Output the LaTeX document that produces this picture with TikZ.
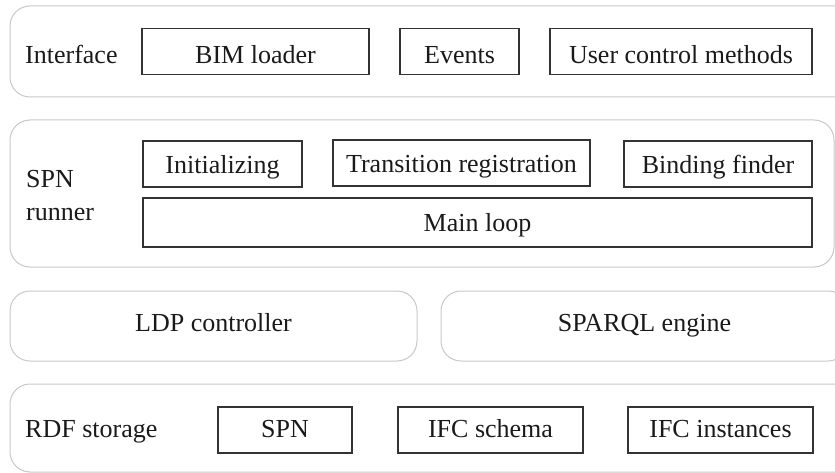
\documentclass[tikz,border=0pt]{standalone}
\usepackage{fontspec}
\setmainfont{Liberation Serif}
\definecolor{panelline}{RGB}{200,200,200}
\definecolor{boxline}{RGB}{51,51,51}
\definecolor{ink}{RGB}{26,26,26}
\begin{document}
\begin{tikzpicture}[x=1pt,y=-1pt,
  every node/.style={font=\fontsize{26}{32}\selectfont, text=ink, inner sep=0pt},
  panel/.style={draw=panelline, line width=1pt, rounded corners=20pt},
  part/.style={draw=boxline, line width=1.3pt},
  % raise the baseline: text sits at (height/2) below the node centre
  lift/.style={text height=#1, text depth=0pt},
  tag/.style={anchor=base west, align=left}]
\useasboundingbox (0,0) rectangle (835,473);
\clip (0,0) rectangle (835,473);

% layer panels
\node[panel, minimum width=850pt, minimum height=91pt] (interface) at (435,51.5) {};
\node[panel, minimum width=824pt, minimum height=147pt] (runner) at (422,193.5) {};
\node[panel, lift=10pt, minimum width=407pt, minimum height=70pt] (ldp) at (213.5,326) {LDP controller};
\node[panel, lift=10pt, minimum width=407pt, minimum height=70pt] (sparql) at (644.5,326) {SPARQL engine};
\node[panel, minimum width=850pt, minimum height=88pt] (rdf) at (435,428) {};

% panel titles
\node[tag] (interfacelbl) at (25,63.5) {Interface};
\node[tag] (runnerlbl) at (26,188) {SPN};
\node[tag] (runnerlbl2) at (26,220) {runner};
\node[tag] (rdflbl) at (25,437) {RDF storage};

% interface parts
\node[part, lift=24pt, minimum width=227pt, minimum height=46pt] (bim) at (255.5,51.5) {BIM loader};
\node[part, lift=24pt, minimum width=119pt, minimum height=46pt] (events) at (459.5,51.5) {Events};
\node[part, lift=24pt, minimum width=262pt, minimum height=46pt] (user) at (681,51.5) {User control methods};

% SPN runner parts
\node[part, lift=20pt, minimum width=159pt, minimum height=46pt] (init) at (222.5,164) {Initializing};
\node[part, lift=20pt, minimum width=257pt, minimum height=46pt] (trans) at (461.5,163) {Transition registration};
\node[part, lift=20pt, minimum width=188pt, minimum height=46pt] (bind) at (718,164) {Binding finder};
\node[part, lift=18pt, minimum width=669pt, minimum height=49pt] (mainloop) at (477.5,222.5) {Main loop};

% RDF storage parts
\node[part, lift=14pt, minimum width=134pt, minimum height=46pt] (spn) at (285,430) {SPN};
\node[part, lift=14pt, minimum width=185pt, minimum height=46pt] (schema) at (490.5,430) {IFC schema};
\node[part, lift=14pt, minimum width=185pt, minimum height=46pt] (inst) at (720.5,430) {IFC instances};
\end{tikzpicture}
\end{document}
